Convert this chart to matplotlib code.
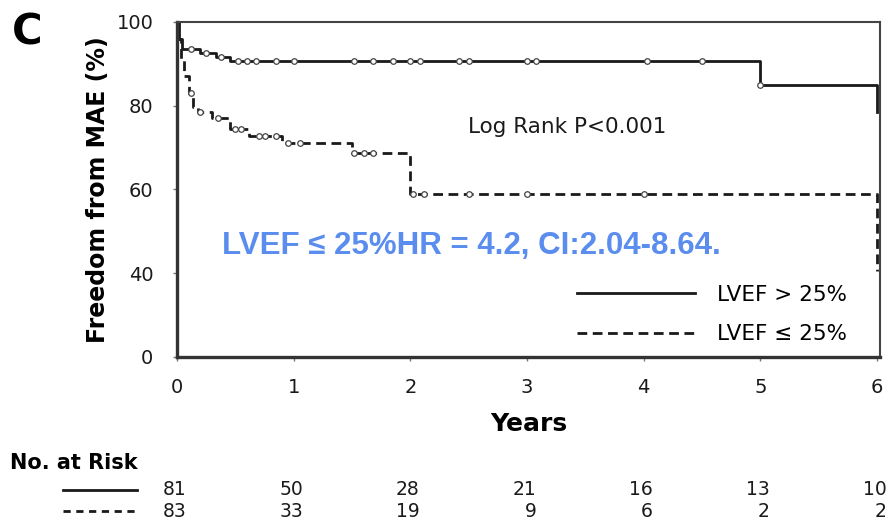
import numpy as np
import matplotlib
matplotlib.use("Agg")
import matplotlib.pyplot as plt
from matplotlib.lines import Line2D

# --- DATA ---
# LVEF > 25% : step times (years) and survival (%)
t_hi = [0, 0.02, 0.04, 0.2, 0.33, 0.45, 5.0, 6.0]
s_hi = [100, 96, 93.5, 92.5, 91.6, 90.6, 84.9, 78.5]
cens_hi = [0.12, 0.25, 0.38, 0.52, 0.6, 0.68, 0.85, 1.0, 1.52, 1.68, 1.85,
           2.0, 2.08, 2.42, 2.5, 3.0, 3.08, 4.03, 4.5, 5.0]

# LVEF <= 25%
t_lo = [0, 0.01, 0.03, 0.06, 0.1, 0.14, 0.18, 0.3, 0.45, 0.62, 0.9, 1.5, 2.0, 6.0]
s_lo = [100, 96, 91, 87, 83, 79.8, 78.5, 77, 74.5, 72.8, 71, 68.8, 59, 40.5]
cens_lo = [0.12, 0.2, 0.35, 0.5, 0.55, 0.7, 0.75, 0.85, 0.95, 1.05, 1.52,
           1.6, 1.68, 2.02, 2.12, 2.5, 3.0, 4.0]

years = [0, 1, 2, 3, 4, 5, 6]
risk_hi = [81, 50, 28, 21, 16, 13, 10]
risk_lo = [83, 33, 19, 9, 6, 2, 2]

y_ticks = [0, 40, 60, 80, 100]
labels = ["LVEF > 25%", "LVEF \u2264 25%"]
hr_text = "LVEF \u2264 25%HR = 4.2, CI:2.04-8.64."
logrank_text = "Log Rank P<0.001"

# y axis drawn with 0, 40, 60, 80, 100 equally spaced
tick_pos = np.arange(len(y_ticks))
def fwd(v):
    return np.interp(v, y_ticks, tick_pos)
def inv(p):
    return np.interp(p, tick_pos, y_ticks)

def at(times, surv, pts):
    idx = np.searchsorted(times, pts, side='right') - 1
    return np.asarray(surv)[idx]

# --- FIGURE ---
fig = plt.figure(figsize=(8.89, 5.26), dpi=100)
ax = fig.add_axes([0.1991, 0.3213, 0.7908, 0.6369])
ax.set_yscale('function', functions=(fwd, inv))
ax.set_xlim(0, 6.025)
ax.set_ylim(0, 100)

dash = (0, (3.5, 2))
h1, = ax.step(t_hi, s_hi, where='post', color='#1a1a1a', lw=2)
h2, = ax.step(t_lo, s_lo, where='post', color='#1a1a1a', lw=2, linestyle=dash)
ax.plot(cens_hi, at(t_hi, s_hi, cens_hi), 'o', ms=4, mfc='white',
        mec='#444444', mew=0.9)
ax.plot(cens_lo, at(t_lo, s_lo, cens_lo), 'o', ms=4, mfc='white',
        mec='#444444', mew=0.9)

ax.set_yticks(y_ticks)
ax.set_yticklabels([str(v) for v in y_ticks])
ax.set_xticks(years)
ax.tick_params(axis='both', labelsize=14, length=3, width=1,
               color='#777777', labelcolor='#1a1a1a')
ax.tick_params(axis='y', pad=14)
ax.tick_params(axis='x', pad=12)

for side in ['left', 'bottom']:
    ax.spines[side].set_linewidth(2.4)
    ax.spines[side].set_color('#333333')
for side in ['top', 'right']:
    ax.spines[side].set_linewidth(1.5)
    ax.spines[side].set_color('#444444')

ax.set_ylabel("Freedom from MAE (%)", fontsize=17, fontweight='bold')
ax.yaxis.set_label_coords(-0.096, 0.5)
ax.set_xlabel("Years", fontsize=18, fontweight='bold')
ax.xaxis.set_label_coords(0.5, -0.165)

ax.text(0.414, 0.687, logrank_text, transform=ax.transAxes, fontsize=15.5,
        ha='left', va='center', color='#1a1a1a')
ax.text(0.419, 0.331, hr_text, transform=ax.transAxes, fontsize=22.5,
        fontweight='bold', family='Liberation Sans', color='#5A8DEE',
        ha='center', va='center')

ax.legend([h1, h2], labels, loc='upper left', bbox_to_anchor=(0.569, 0.215),
          frameon=False, fontsize=15.5, handlelength=5.5, handletextpad=1.0,
          labelspacing=0.9, borderpad=0, borderaxespad=0)

fig.text(0.031, 0.939, "C", fontsize=30, fontweight='bold',
         ha='center', va='center')

# --- NUMBER AT RISK TABLE ---
tr = ax.get_xaxis_transform()
ax.text(-1.43, -0.316, "No. at Risk", transform=tr, fontsize=15,
        fontweight='bold', ha='left', va='center', clip_on=False)
row_y = [-0.397, -0.46]
for ry, vals, ls in zip(row_y, [risk_hi, risk_lo], ['-', (0, (2.6, 2))]):
    ax.add_line(Line2D([-0.977, -0.343], [ry, ry], transform=tr, color='#1a1a1a',
                       lw=2, linestyle=ls, clip_on=False))
    for x, v in zip(years, vals):
        ax.text(x + 0.08, ry, str(v), transform=tr, fontsize=13.5,
                ha='right', va='center', clip_on=False, color='#1a1a1a')

fig.savefig("out.png", dpi=100)
